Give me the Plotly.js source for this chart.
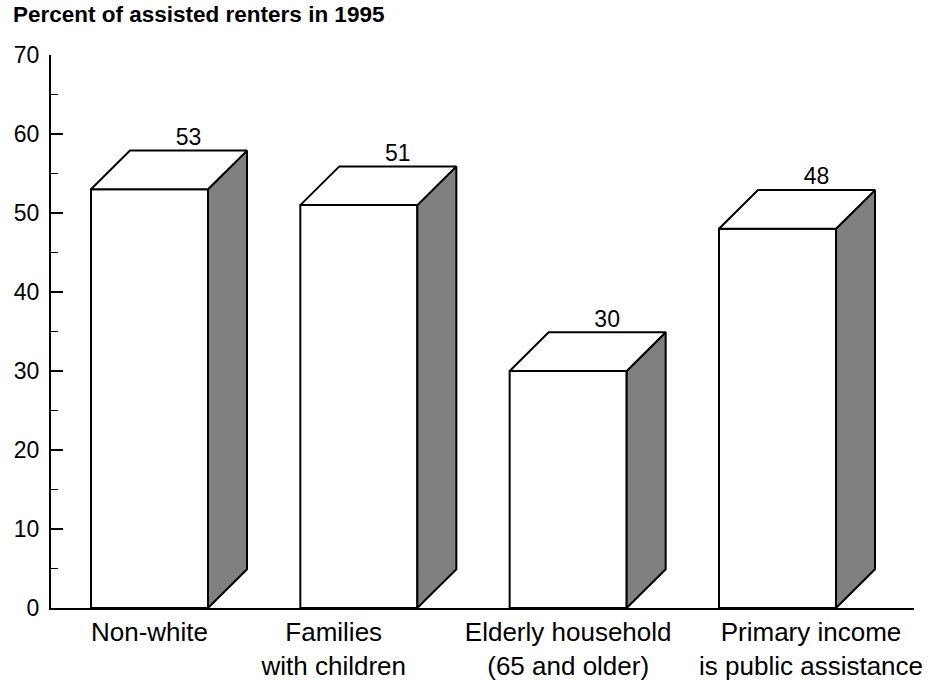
<!DOCTYPE html>
<html>
<head>
<meta charset="utf-8">
<script src="https://cdn.plot.ly/plotly-3.0.1.min.js"></script>
<style>html,body{margin:0;padding:0;background:#fff;}#chart{width:941px;height:684px;}</style>
</head>
<body>
<div id="chart"></div>
<script>
const categories = ["Non-white", "Families<br>with children", "Elderly household<br>(65 and older)", "Primary income<br>is public assistance"];
const values = [53, 51, 30, 48];
const yTicks = [0, 10, 20, 30, 40, 50, 60, 70];
const titleText = "Percent of assisted renters in 1995";

// geometry of the pseudo-3D bars (in axis units)
const halfW = 0.2795, dx = 0.1863, dy = 4.9;
// horizontal nudges of the category labels (axis units), as laid out in the original
const labelNudge = [0, -0.12, 0, 0.16];

const frontX = [], frontY = [], sideX = [], sideY = [], topX = [], topY = [];
const labX = [], labY = [], labT = [];
values.forEach((v, i) => {
  const l = i - halfW, r = i + halfW;
  frontX.push(l, r, r, l, l, null); frontY.push(0, 0, v, v, 0, null);
  sideX.push(r, r + dx, r + dx, r, r, null); sideY.push(0, dy, v + dy, v, 0, null);
  topX.push(l, l + dx, r + dx, r, l, null); topY.push(v, v + dy, v + dy, v, v, null);
  labX.push(i + dx); labY.push(v + dy); labT.push(String(v));
});

const edge = {color: "#000", width: 2};
const traces = [
  {x: frontX, y: frontY, mode: "lines", fill: "toself", fillcolor: "#ffffff", line: edge, hoverinfo: "skip"},
  {x: sideX, y: sideY, mode: "lines", fill: "toself", fillcolor: "#808080", line: edge, hoverinfo: "skip"},
  {x: topX, y: topY, mode: "lines", fill: "toself", fillcolor: "#ffffff", line: edge, hoverinfo: "skip"},
  {x: labX, y: labY, mode: "text", text: labT, textposition: "top center",
   textfont: {family: "Liberation Sans, Arial, sans-serif", size: 23, color: "#000"}, hoverinfo: "skip"}
];

const layout = {
  width: 941, height: 684,
  margin: {l: 51, r: 27, t: 55, b: 76},
  paper_bgcolor: "#fff", plot_bgcolor: "#fff",
  showlegend: false,
  font: {family: "Liberation Sans, Arial, sans-serif", color: "#000"},
  title: {text: "<b>" + titleText + "</b>", x: 0, xref: "container", xanchor: "left", y: 1, yref: "container", yanchor: "top",
          pad: {l: 13, t: 6}, font: {size: 22.5, color: "#000"}},
  xaxis: {
    range: [-0.4705, 3.652], showgrid: false, zeroline: false,
    showline: true, linecolor: "#000", linewidth: 2,
    tickvals: categories.map((c, i) => i + labelNudge[i]), ticktext: categories, ticks: "", tickangle: 0,
    tickfont: {size: 26, color: "#000"}, fixedrange: true
  },
  yaxis: {
    range: [0, 70], showgrid: false, zeroline: false,
    showline: true, linecolor: "#000", linewidth: 2,
    tickvals: yTicks, ticks: "inside", ticklen: 12, tickwidth: 1.5, tickcolor: "#000",
    ticklabelstandoff: 5,
    minor: {dtick: 5, ticks: "inside", ticklen: 7, tickwidth: 1.5, tickcolor: "#000"},
    tickfont: {size: 23, color: "#000"}, fixedrange: true
  }
};

Plotly.newPlot("chart", traces, layout, {displayModeBar: false, staticPlot: true});
</script>
</body>
</html>
